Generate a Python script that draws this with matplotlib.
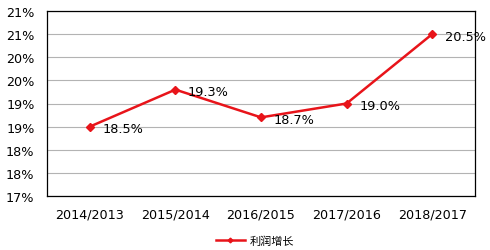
import matplotlib
matplotlib.use('Agg')
import matplotlib.pyplot as plt
import numpy as np
from matplotlib.ticker import FuncFormatter

plt.rcParams['font.family'] = ['DejaVu Sans', 'Noto Sans CJK SC']

periods = ['2014/2013', '2015/2014', '2016/2015', '2017/2016', '2018/2017']
growth = [18.5, 19.3, 18.7, 19.0, 20.5]
series_name = '利润增长'

fig = plt.figure(figsize=(4.9, 2.51), dpi=100)
ax = fig.add_axes([47 / 490, 1 - 197 / 251, 428 / 490, 185 / 251])

x = np.arange(len(periods)) + 0.5
ax.plot(x, growth, color='#e8141a', lw=1.8, marker='D', ms=4, label=series_name, zorder=3)
for xi, v in zip(x, growth):
    ax.annotate(f'{v:.1f}%', (xi, v), xytext=(9, -1.5), textcoords='offset points',
                va='center', ha='left', fontsize=9.3, color='black')

ax.set_xlim(0, len(periods))
ax.set_ylim(17, 21)
ax.set_yticks(np.arange(17, 21.01, 0.5))
ax.yaxis.set_major_formatter(FuncFormatter(lambda v, p: f'{int(np.floor(v + 0.5))}%'))
ax.set_xticks(x)
ax.set_xticklabels(periods)
ax.tick_params(length=0, labelsize=9.2)
ax.tick_params(axis='y', pad=9)
ax.tick_params(axis='x', pad=8)
ax.grid(axis='y', color='#b3b3b3', lw=0.8)
ax.set_axisbelow(True)
for s in ax.spines.values():
    s.set_color('black')
    s.set_linewidth(0.9)

fig.legend(loc='lower center', bbox_to_anchor=(0.52, -0.025), frameon=False,
           prop={'family': ['Noto Sans CJK SC'], 'size': 8}, handlelength=2.6,
           handletextpad=0.4, markerscale=0.6)

fig.savefig('out.png', dpi=100)
